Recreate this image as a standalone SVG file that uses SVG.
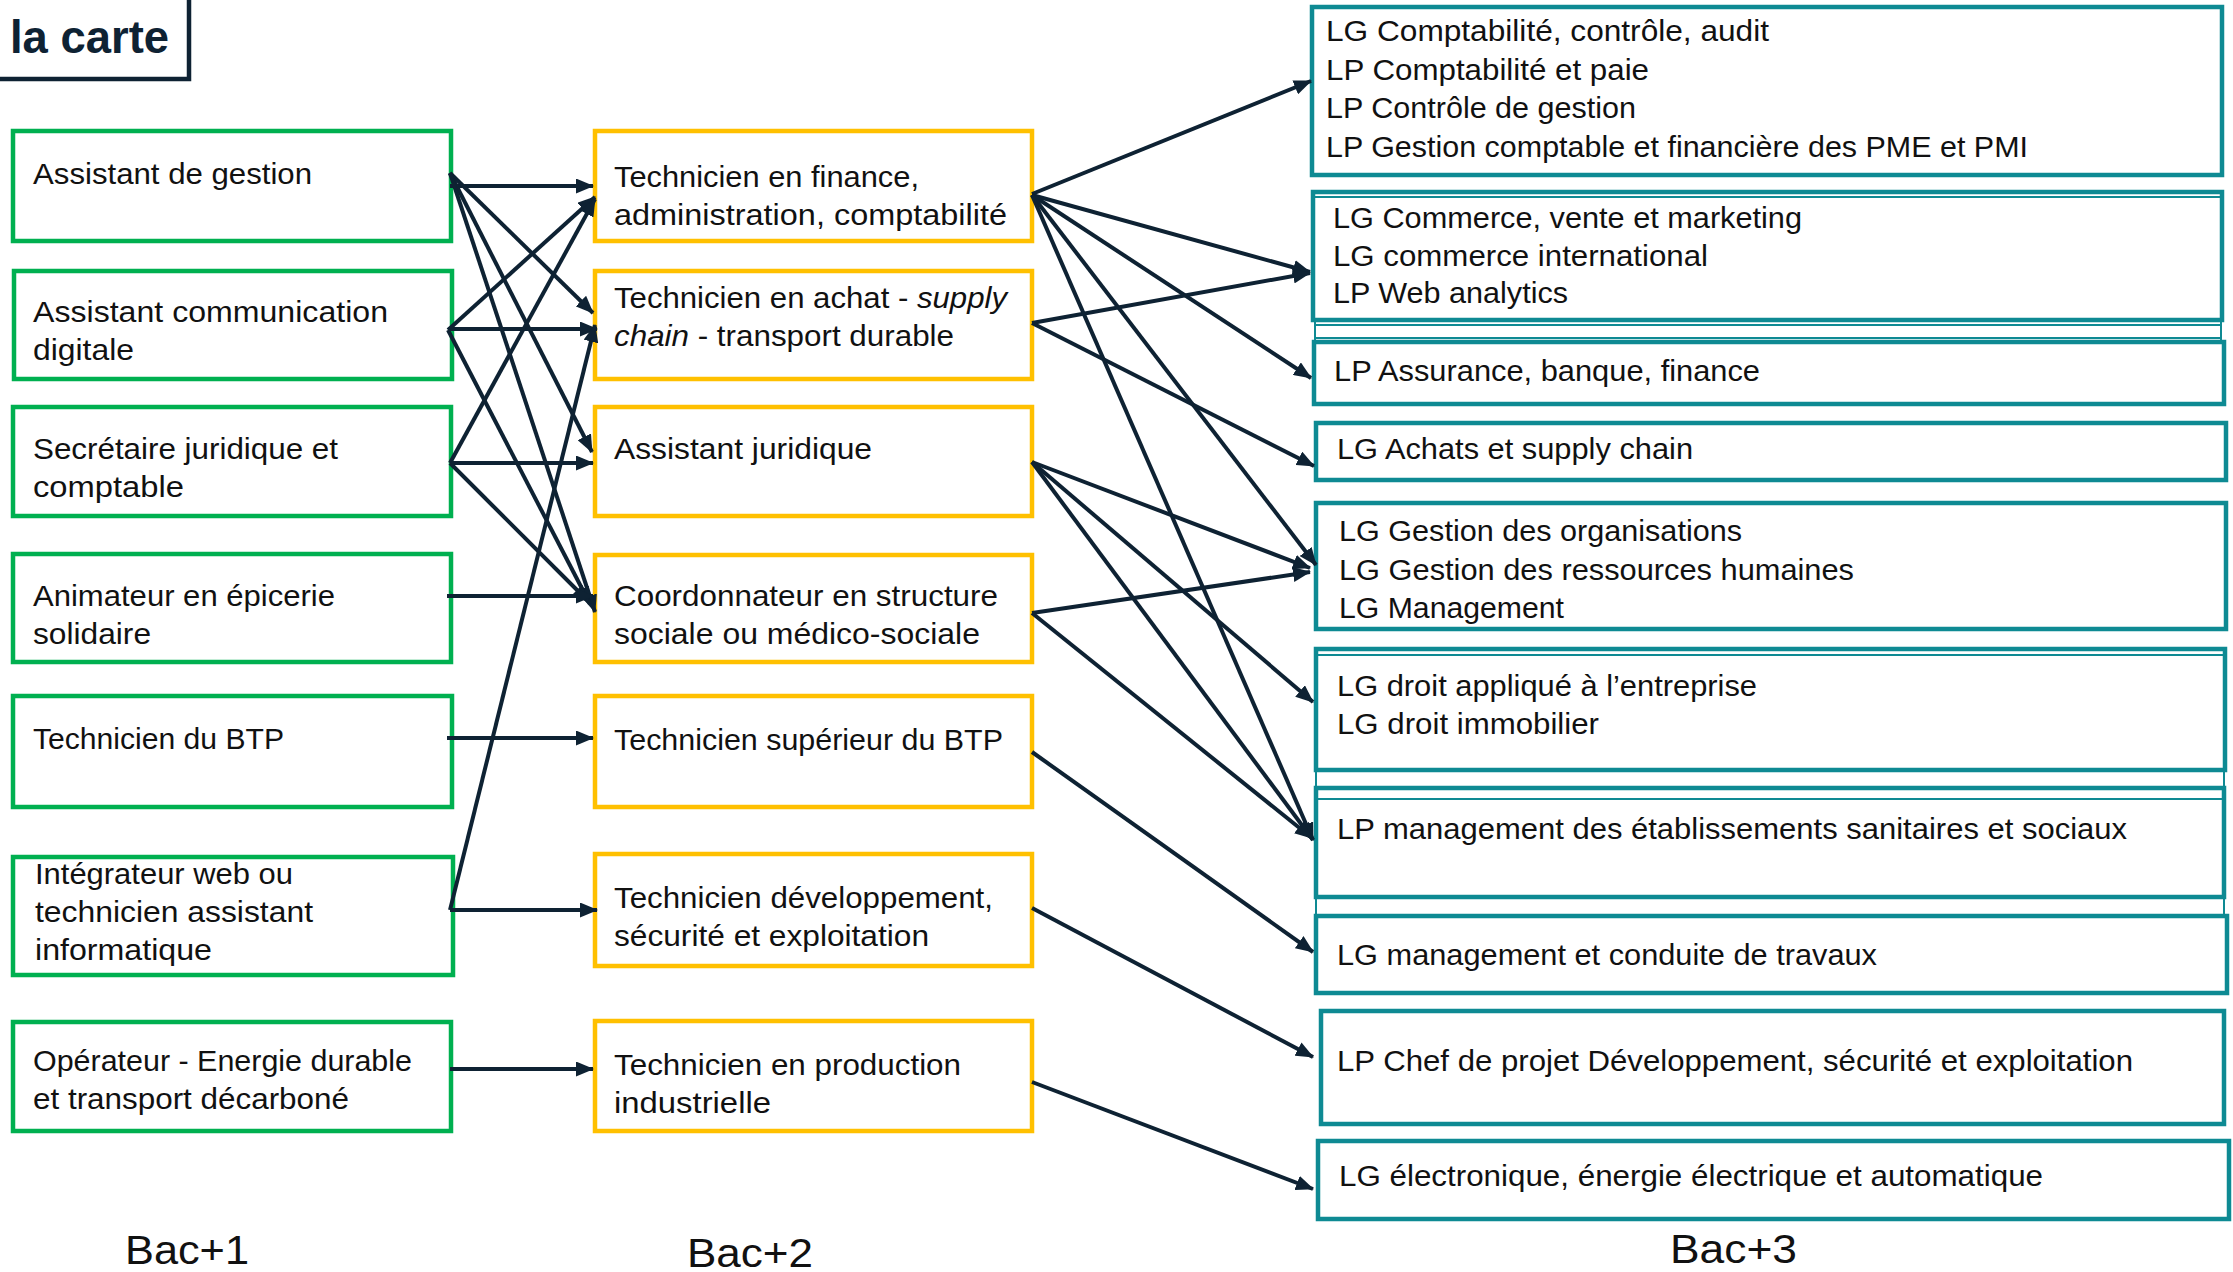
<svg xmlns="http://www.w3.org/2000/svg" width="2233" height="1272" viewBox="0 0 2233 1272">
<defs>
<marker id="ah" markerUnits="userSpaceOnUse" markerWidth="18" markerHeight="15" refX="17" refY="7.5" orient="auto">
<path d="M0,0 L18,7.5 L0,15 Z" fill="#0e2233"/>
</marker>
</defs>
<style>
.g{fill:#fff;stroke:#00b050;stroke-width:4.5}
.y{fill:#fff;stroke:#ffc000;stroke-width:4.5}
.t{fill:#fff;stroke:#0e8a93;stroke-width:4.5}
.thin{fill:none;stroke:#0e8a93;stroke-width:2}
.c1,.c2,.c3{font-family:"Liberation Sans",Arial,sans-serif;fill:#111;font-size:29px}
.lab{font-family:"Liberation Sans",Arial,sans-serif;fill:#111;font-size:40px}
#edges line{stroke:#0e2233;stroke-width:4;marker-end:url(#ah)}
</style>
<rect width="2233" height="1272" fill="#fff"/>

<g id="title">
<rect x="-6" y="-6" width="195" height="85" fill="#fff" stroke="#0e2233" stroke-width="4.5"/>
<text x="10" y="53" font-family="'Liberation Sans',Arial,sans-serif" font-weight="bold" font-size="46" fill="#0e2233" textLength="159" lengthAdjust="spacingAndGlyphs">la carte</text>
</g>

<g id="bac1-assistant-gestion"><rect class="g" x="13" y="131" width="438" height="110"/>
<text class="c1" x="33" y="184" textLength="279" lengthAdjust="spacingAndGlyphs">Assistant de gestion</text></g>
<g id="bac1-assistant-communication"><rect class="g" x="14" y="271" width="438" height="108"/>
<text class="c1" x="33" y="322" textLength="355" lengthAdjust="spacingAndGlyphs">Assistant communication</text>
<text class="c1" x="33" y="360" textLength="101" lengthAdjust="spacingAndGlyphs">digitale</text></g>
<g id="bac1-secretaire"><rect class="g" x="13" y="407" width="438" height="109"/>
<text class="c1" x="33" y="459" textLength="305" lengthAdjust="spacingAndGlyphs">Secrétaire juridique et</text>
<text class="c1" x="33" y="497" textLength="151" lengthAdjust="spacingAndGlyphs">comptable</text></g>
<g id="bac1-animateur"><rect class="g" x="13" y="554" width="438" height="108"/>
<text class="c1" x="33" y="606" textLength="302" lengthAdjust="spacingAndGlyphs">Animateur en épicerie</text>
<text class="c1" x="33" y="644" textLength="118" lengthAdjust="spacingAndGlyphs">solidaire</text></g>
<g id="bac1-technicien-btp"><rect class="g" x="13" y="696" width="439" height="111"/>
<text class="c1" x="33" y="749" textLength="251" lengthAdjust="spacingAndGlyphs">Technicien du BTP</text></g>
<g id="bac1-integrateur"><rect class="g" x="13" y="857" width="440" height="118"/>
<text class="c1" x="35" y="884" textLength="258" lengthAdjust="spacingAndGlyphs">Intégrateur web ou</text>
<text class="c1" x="35" y="922" textLength="278" lengthAdjust="spacingAndGlyphs">technicien assistant</text>
<text class="c1" x="35" y="960" textLength="177" lengthAdjust="spacingAndGlyphs">informatique</text></g>
<g id="bac1-operateur"><rect class="g" x="13" y="1022" width="438" height="109"/>
<text class="c1" x="33" y="1071" textLength="379" lengthAdjust="spacingAndGlyphs">Opérateur - Energie durable</text>
<text class="c1" x="33" y="1109" textLength="316" lengthAdjust="spacingAndGlyphs">et transport décarboné</text></g>

<g id="bac2-finance"><rect class="y" x="595" y="131" width="437" height="110"/>
<text class="c2" x="614" y="187" textLength="305" lengthAdjust="spacingAndGlyphs">Technicien en finance,</text>
<text class="c2" x="614" y="225" textLength="393" lengthAdjust="spacingAndGlyphs">administration, comptabilité</text></g>
<g id="bac2-achat"><rect class="y" x="595" y="271" width="437" height="108"/>
<text class="c2" x="614" y="308" textLength="393" lengthAdjust="spacingAndGlyphs">Technicien en achat - <tspan font-style="italic">supply</tspan></text>
<text class="c2" x="614" y="346" textLength="340" lengthAdjust="spacingAndGlyphs"><tspan font-style="italic">chain</tspan> - transport durable</text></g>
<g id="bac2-assistant-juridique"><rect class="y" x="595" y="407" width="437" height="109"/>
<text class="c2" x="614" y="459" textLength="258" lengthAdjust="spacingAndGlyphs">Assistant juridique</text></g>
<g id="bac2-coordonnateur"><rect class="y" x="595" y="555" width="437" height="107"/>
<text class="c2" x="614" y="606" textLength="384" lengthAdjust="spacingAndGlyphs">Coordonnateur en structure</text>
<text class="c2" x="614" y="644" textLength="366" lengthAdjust="spacingAndGlyphs">sociale ou médico-sociale</text></g>
<g id="bac2-technicien-superieur-btp"><rect class="y" x="595" y="696" width="437" height="111"/>
<text class="c2" x="614" y="750" textLength="389" lengthAdjust="spacingAndGlyphs">Technicien supérieur du BTP</text></g>
<g id="bac2-developpement"><rect class="y" x="595" y="854" width="437" height="112"/>
<text class="c2" x="614" y="908" textLength="379" lengthAdjust="spacingAndGlyphs">Technicien développement,</text>
<text class="c2" x="614" y="946" textLength="315" lengthAdjust="spacingAndGlyphs">sécurité et exploitation</text></g>
<g id="bac2-production"><rect class="y" x="595" y="1021" width="437" height="110"/>
<text class="c2" x="614" y="1075" textLength="347" lengthAdjust="spacingAndGlyphs">Technicien en production</text>
<text class="c2" x="614" y="1113" textLength="157" lengthAdjust="spacingAndGlyphs">industrielle</text></g>

<g id="bac3-comptabilite"><rect class="t" x="1312" y="7" width="910" height="168"/>
<text class="c3" x="1326" y="41" textLength="443" lengthAdjust="spacingAndGlyphs">LG Comptabilité, contrôle, audit</text>
<text class="c3" x="1326" y="80" textLength="323" lengthAdjust="spacingAndGlyphs">LP Comptabilité et paie</text>
<text class="c3" x="1326" y="118" textLength="310" lengthAdjust="spacingAndGlyphs">LP Contrôle de gestion</text>
<text class="c3" x="1326" y="157" textLength="702" lengthAdjust="spacingAndGlyphs">LP Gestion comptable et financière des PME et PMI</text></g>
<g id="bac3-commerce"><rect class="t" x="1313" y="192" width="909" height="128"/>
<text class="c3" x="1333" y="228" textLength="469" lengthAdjust="spacingAndGlyphs">LG Commerce, vente et marketing</text>
<text class="c3" x="1333" y="266" textLength="375" lengthAdjust="spacingAndGlyphs">LG commerce international</text>
<text class="c3" x="1333" y="303" textLength="235" lengthAdjust="spacingAndGlyphs">LP Web analytics</text></g>
<g id="bac3-assurance"><rect class="t" x="1314" y="342" width="910" height="62"/>
<text class="c3" x="1334" y="381" textLength="426" lengthAdjust="spacingAndGlyphs">LP Assurance, banque, finance</text></g>
<g id="bac3-achats"><rect class="t" x="1316" y="423" width="910" height="57"/>
<text class="c3" x="1337" y="459" textLength="356" lengthAdjust="spacingAndGlyphs">LG Achats et supply chain</text></g>
<g id="bac3-gestion"><rect class="t" x="1316" y="503" width="910" height="126"/>
<text class="c3" x="1339" y="541" textLength="403" lengthAdjust="spacingAndGlyphs">LG Gestion des organisations</text>
<text class="c3" x="1339" y="580" textLength="515" lengthAdjust="spacingAndGlyphs">LG Gestion des ressources humaines</text>
<text class="c3" x="1339" y="618" textLength="225" lengthAdjust="spacingAndGlyphs">LG Management</text></g>
<g id="bac3-droit"><rect class="t" x="1316" y="649" width="909" height="121"/>
<text class="c3" x="1337" y="696" textLength="420" lengthAdjust="spacingAndGlyphs">LG droit appliqué à l’entreprise</text>
<text class="c3" x="1337" y="734" textLength="262" lengthAdjust="spacingAndGlyphs">LG droit immobilier</text></g>
<g id="bac3-sanitaires"><rect class="t" x="1316" y="788" width="908" height="109"/>
<text class="c3" x="1337" y="839" textLength="790" lengthAdjust="spacingAndGlyphs">LP management des établissements sanitaires et sociaux</text></g>
<g id="bac3-travaux"><rect class="t" x="1316" y="916" width="911" height="77"/>
<text class="c3" x="1337" y="965" textLength="540" lengthAdjust="spacingAndGlyphs">LG management et conduite de travaux</text></g>
<g id="bac3-chef-projet"><rect class="t" x="1321" y="1011" width="903" height="113"/>
<text class="c3" x="1337" y="1071" textLength="796" lengthAdjust="spacingAndGlyphs">LP Chef de projet Développement, sécurité et exploitation</text></g>
<g id="bac3-electronique"><rect class="t" x="1318" y="1141" width="911" height="78"/>
<text class="c3" x="1339" y="1186" textLength="704" lengthAdjust="spacingAndGlyphs">LG électronique, énergie électrique et automatique</text></g>

<g id="frame-lines">
<path class="thin" d="M1315,197 H2221 M1315,322 V343 M2221,322 V343 M1315,325 H2221 M1315,338 H2221 M1318,655 H2223 M1316,770 V788 M2224,770 V788 M1318,799 H2222 M1316,897 V916 M2224,897 V916"/>
</g>

<g id="edges">
<line x1="450" y1="186" x2="593" y2="186"/>
<line x1="450" y1="173" x2="593" y2="313"/>
<line x1="450" y1="173" x2="592" y2="452"/>
<line x1="450" y1="173" x2="595" y2="612"/>
<line x1="448" y1="330" x2="595" y2="197"/>
<line x1="448" y1="329" x2="597" y2="329"/>
<line x1="448" y1="330" x2="590" y2="604"/>
<line x1="450" y1="463" x2="595" y2="199"/>
<line x1="450" y1="463" x2="593" y2="463"/>
<line x1="450" y1="463" x2="589" y2="602"/>
<line x1="447" y1="596" x2="593" y2="596"/>
<line x1="447" y1="738" x2="593" y2="738"/>
<line x1="450" y1="910" x2="595" y2="325"/>
<line x1="450" y1="910" x2="597" y2="910"/>
<line x1="450" y1="1069" x2="593" y2="1069"/>
<line x1="1032" y1="194" x2="1311" y2="81"/>
<line x1="1032" y1="195" x2="1310" y2="272"/>
<line x1="1032" y1="195" x2="1311" y2="378"/>
<line x1="1032" y1="195" x2="1316" y2="565"/>
<line x1="1032" y1="195" x2="1313" y2="840"/>
<line x1="1032" y1="323" x2="1310" y2="273"/>
<line x1="1032" y1="323" x2="1314" y2="466"/>
<line x1="1032" y1="462" x2="1310" y2="568"/>
<line x1="1032" y1="462" x2="1313" y2="702"/>
<line x1="1032" y1="462" x2="1313" y2="840"/>
<line x1="1032" y1="613" x2="1310" y2="572"/>
<line x1="1032" y1="613" x2="1312" y2="838"/>
<line x1="1032" y1="752" x2="1313" y2="952"/>
<line x1="1032" y1="908" x2="1313" y2="1057"/>
<line x1="1032" y1="1082" x2="1313" y2="1189"/>
</g>

<g id="level-labels">
<text class="lab" x="125" y="1264" textLength="124" lengthAdjust="spacingAndGlyphs">Bac+1</text>
<text class="lab" x="687" y="1267" textLength="126" lengthAdjust="spacingAndGlyphs">Bac+2</text>
<text class="lab" x="1670" y="1263" textLength="127" lengthAdjust="spacingAndGlyphs">Bac+3</text>
</g>
</svg>
